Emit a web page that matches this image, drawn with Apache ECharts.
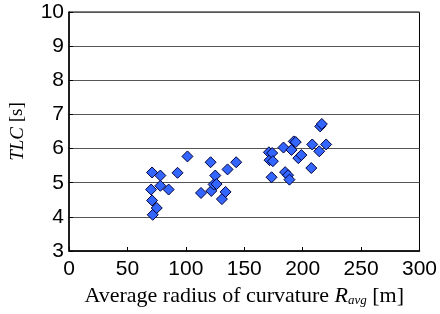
<!DOCTYPE html>
<html><head><meta charset="utf-8">
<script src="https://cdn.jsdelivr.net/npm/echarts@6/dist/echarts.min.js"></script>
<style>html,body{margin:0;padding:0;background:#fff}#c{width:440px;height:314px}</style>
</head><body><div id="c"></div>
<script>
var radius = [71.1,70.3,71.1,71.7,75.1,78.2,78.2,85.3,92.9,101.4,113.0,121.2,121.8,123.8,125.2,126.3,130.9,134.0,135.7,143.1,171.1,171.7,173.9,174.5,173.4,183.6,185.0,187.5,188.7,190.4,192.4,194.1,196.3,198.9,207.4,208.2,214.2,215.0,216.4,220.1];
var tlc = [5.30,4.80,4.48,4.06,4.26,5.21,4.91,4.80,5.29,5.77,4.70,5.60,4.76,4.95,5.21,4.96,4.52,4.73,5.39,5.60,5.89,5.66,5.87,5.63,5.16,6.03,5.31,5.22,5.09,5.96,6.21,6.19,5.72,5.81,5.43,6.12,5.92,6.65,6.72,6.12];
var points = radius.map(function(r,i){return [r, tlc[i]];});
var chart = echarts.init(document.getElementById('c'));
chart.setOption({
  animation:false,
  grid:{left:68,right:19,top:12,bottom:63,show:true,borderColor:'#000',borderWidth:1,backgroundColor:'transparent'},
  xAxis:{type:'value',min:0,max:300,interval:50,
    axisLine:{show:true,onZero:false,lineStyle:{color:'#000',width:1.5}},
    axisTick:{show:true,inside:true,length:4,lineStyle:{color:'#000'}},
    splitLine:{show:false},
    axisLabel:{color:'#000',fontFamily:'Liberation Sans',fontSize:21,margin:8},
    name:'{n|Average radius of curvature }{i|R}{s|avg}{n| [m]}',
    nameLocation:'middle',nameGap:34,
    nameTextStyle:{rich:{
      n:{fontFamily:'Liberation Serif',fontSize:22,color:'#000'},
      i:{fontFamily:'Liberation Serif',fontStyle:'italic',fontSize:22,color:'#000'},
      s:{fontFamily:'Liberation Serif',fontStyle:'italic',fontSize:13,color:'#000',padding:[9,0,0,0]}
    }}
  },
  yAxis:{type:'value',min:3,max:10,interval:1,
    axisLine:{show:true,lineStyle:{color:'#000',width:1.5}},
    axisTick:{show:true,inside:true,length:4,lineStyle:{color:'#000'}},
    splitLine:{show:true,lineStyle:{color:'#555',width:1}},
    axisLabel:{color:'#000',fontFamily:'Liberation Sans',fontSize:21,margin:5},
    name:'{i|TLC}{n| [s]}',
    nameLocation:'middle',nameGap:42,nameRotate:90,
    nameTextStyle:{rich:{
      n:{fontFamily:'Liberation Serif',fontSize:19,color:'#000'},
      i:{fontFamily:'Liberation Serif',fontStyle:'italic',fontSize:19,color:'#000'}
    }}
  },
  series:[{type:'scatter',data:points,symbol:'diamond',symbolSize:11,
    itemStyle:{color:'#3366ff',borderColor:'#00003a',borderWidth:1,opacity:1}}]
});
</script></body></html>
